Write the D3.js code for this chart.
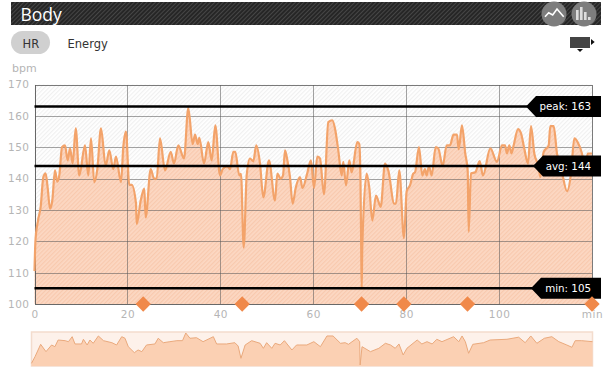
<!DOCTYPE html>
<html>
<head>
<meta charset="utf-8">
<script src="https://cdn.jsdelivr.net/npm/d3@7"></script>
<style>
html, body { margin: 0; padding: 0; background: #fff; }
svg { display: block; font-family: "DejaVu Sans", sans-serif; }
.tick line, .domain { shape-rendering: crispEdges; }
</style>
</head>
<body>
<div id="chart"></div>
<script>
//values
var minutes = [0, 0.2, 0.75, 1.33, 1.9, 2.4, 2.84, 3.34, 3.83, 4.41, 4.91, 5.34, 5.92, 6.56, 7.15, 7.64, 8.22, 8.87, 9.64, 10.87, 11.58, 12.16, 12.87, 13.52, 14.31, 15.32, 16.1, 16.96, 17.54, 18.62, 19.11, 19.69, 20.4, 20.92, 21.85, 22, 22.86, 23.63, 23.93, 25.01, 25.72, 26.3, 27.01, 28.09, 29.32, 30.03, 30.95, 32.18, 33.1, 34.05, 34.55, 35.13, 35.48, 36.48, 37.41, 38.14, 38.92, 39.93, 40.51, 41.5, 42.08, 42.79, 43.22, 44.08, 44.45, 45.03, 45.67, 46.38, 47.09, 47.74, 48.54, 49.25, 50.47, 51.77, 52.26, 52.99, 53.49, 53.92, 54.41, 54.99, 55.57, 56.22, 57.15, 57.68, 58.59, 59.51, 60.16, 60.87, 61.45, 62.31, 63.24, 64.1, 64.68, 65.39, 66.12, 66.47, 67.05, 67.76, 68.27, 69.48, 69.91, 70.17, 70.32, 70.43, 70.55, 71.5, 72.07, 72.71, 73.5, 74.52, 75.44, 76.15, 77.44, 77.8, 78.52, 79.53, 80.11, 80.82, 81.53, 81.9, 82.76, 83.47, 84.05, 84.4, 84.91, 85.49, 86.35, 86.92, 87.86, 88.72, 89.43, 90.18, 90.94, 91.3, 92.01, 92.72, 93.24, 93.46, 93.95, 94.88, 95.82, 96.53, 98.11, 99.55, 100.62, 101.27, 101.7, 102.2, 102.67, 103.14, 104.07, 104.71, 105.42, 106.22, 106.87, 107.58, 108.52, 108.87, 109.6, 110.68, 111.02, 111.75, 112.46, 113.39, 114.62, 115.48, 116.19, 116.92, 117.84, 118.55, 119.07, 119.63, 120];
var hr = [110.5, 120, 126.6, 131, 140.5, 141.7, 137, 130.4, 133, 142.6, 139, 141, 150, 150.6, 145.8, 149.6, 144.8, 156, 141, 150.6, 141, 152.8, 138.8, 143, 156, 144, 149, 143, 147, 138.8, 150, 155, 138, 138, 132, 125.5, 133, 136.8, 127.6, 143, 140, 140, 152.8, 142.6, 148.5, 144.8, 150.6, 146.4, 162.5, 151, 154, 151, 153, 144.8, 151.6, 145.8, 157, 141, 143, 144, 143, 148.5, 148.5, 141, 141.5, 118, 141, 146.4, 145.5, 150.6, 144.8, 134, 145.8, 133, 141.6, 140, 141, 149, 146, 140.5, 132, 137, 140.5, 137, 141, 145.8, 137, 147, 146.4, 135, 158, 158.6, 156, 149, 141, 145.3, 137.8, 145.8, 142, 151.6, 151, 139, 118, 105, 118, 141.6, 137, 126.6, 134.6, 131, 144.8, 142.6, 132, 132, 142.6, 121, 136, 137.8, 141.6, 142, 150, 141, 143, 141, 144, 141, 150, 149.6, 144, 150.6, 150.6, 154, 154, 149.3, 157, 148, 142.6, 123, 141.6, 142, 145.6, 141, 149.6, 145.3, 150.6, 150.6, 148, 150.6, 148, 150.6, 155.8, 154.5, 149.6, 144.8, 156.7, 148, 143.7, 140.5, 148.5, 150.6, 156.7, 156.7, 148, 143, 136, 141.6, 152.8, 151.6, 148, 142.6, 148, 148, 148];
var overviewMinutes = [0, 0.75, 1.96, 3.1, 4.3, 5, 5.7, 7.2, 7.9, 8.7, 9.3, 10.7, 11.1, 11.9, 12.5, 13.2, 14.3, 15.4, 17.2, 18.2, 19.3, 20, 20.7, 22, 22.8, 23.6, 24.6, 26.4, 27.1, 28.2, 29.6, 31.1, 32.3, 33, 33.9, 35.3, 36.7, 38.9, 39.6, 41.7, 43.5, 44.2, 44.8, 45.7, 47.1, 48.9, 49.6, 50.3, 51.4, 52.1, 53.2, 54.1, 55.7, 56.7, 57.4, 58.9, 60.4, 61.8, 63.2, 64.5, 66.1, 67.1, 67.8, 69.6, 70.2, 70.3, 70.7, 72.5, 74.3, 75.7, 76.8, 77.8, 78.6, 79.5, 80.3, 82.5, 83.5, 84.6, 85.7, 86.7, 87.8, 90.3, 91.4, 92.1, 92.8, 93.5, 94.4, 96.7, 98.1, 101.7, 104.2, 105.6, 106.8, 108.1, 109.7, 111.3, 112.8, 114.5, 115.6, 116.3, 117.7, 120];
var overviewHr = [108.9, 120.7, 142.8, 129.7, 141.6, 138.6, 150.5, 149.3, 147.5, 156.4, 143.4, 143.4, 151.8, 141.6, 150.5, 144.6, 157.7, 149.3, 145.7, 141.6, 156.4, 153.6, 138.6, 127.9, 132.7, 129.7, 141.6, 143.4, 153.6, 145.7, 147.5, 149.3, 149.3, 163, 153.6, 154.6, 147.5, 156.4, 143.4, 143.4, 145.7, 139.8, 117.9, 141.6, 149.3, 144.6, 135.7, 145.7, 135.7, 144.6, 141.6, 149.3, 132.7, 141.6, 141.6, 141.6, 147.5, 138.6, 157.7, 157.7, 144.6, 145.7, 142.8, 153.6, 147.5, 105.9, 138.6, 129.7, 135.7, 144.6, 141.6, 135.7, 143.4, 123.8, 135.7, 150.5, 143.4, 147.5, 143.4, 151.8, 147.5, 156.4, 147.5, 157.7, 147.5, 126.8, 142.8, 145.7, 150.5, 151.8, 155.5, 145.7, 157.7, 144.6, 153.6, 156.4, 147.5, 141.6, 137.5, 149.3, 149.3, 147.5];
var eventMinutes = [23.4, 44.7, 70.4, 79.5, 93.2, 120];
var refLabels = ["peak", "avg", "min"];
var refValues = [163, 144, 105];
var flagWidths = [75, 68, 70];
var yTicks = [100, 110, 120, 130, 140, 150, 160, 170];
var xTicks = [0, 20, 40, 60, 80, 100, 120];
var tabs = ["HR", "Energy"];

var W = 607, H = 376;
var margin = {top: 84.5, right: 15, bottom: 72, left: 34.5};
var data = minutes.map(function(m, i) { return {m: m, v: hr[i]}; });
var overview = overviewMinutes.map(function(m, i) { return {m: m, v: overviewHr[i]}; });

var svg = d3.select("#chart").append("svg").attr("width", W).attr("height", H);
var defs = svg.append("defs");

//diagonal hatch patterns
function hatch(id, bg, fg, size, sw) {
    var p = defs.append("pattern").attr("id", id)
        .attr("width", size).attr("height", size)
        .attr("patternUnits", "userSpaceOnUse")
        .attr("patternTransform", "rotate(45)");
    p.append("rect").attr("width", size).attr("height", size).attr("fill", bg);
    p.append("rect").attr("width", sw).attr("height", size).attr("fill", fg);
}
hatch("hatchBar", "#262626", "#464646", 3, 1);
hatch("hatchBg", "#ffffff", "#f0f0f0", 3, 1.2);
hatch("hatchArea", "#fcd8c3", "#f8c9ae", 3, 1.2);

//scales
var x = d3.scaleLinear().domain([0, 120]).range([margin.left, W - margin.right]);
var y = d3.scaleLinear().domain([100, 170]).range([H - margin.bottom, margin.top]);
var xo = d3.scaleLinear().domain([0, 120]).range([31.5, 592.5]);
var yo = d3.scaleLinear().domain([105, 163]).range([365.5, 333]);

//header bar
svg.append("rect").attr("x", 11).attr("y", 2).attr("width", 590).attr("height", 23).attr("fill", "url(#hatchBar)");
svg.append("text").attr("x", 20.5).attr("y", 20.5).attr("fill", "#fff").attr("font-size", 17.5).attr("font-family", "Open Sans").text("Body");

//round buttons in the header
var btns = svg.append("g");
[554, 584].forEach(function(cx) {
    btns.append("circle").attr("cx", cx).attr("cy", 14).attr("r", 12.5).attr("fill", "#7d7d7d");
});
btns.append("path").attr("d", "M545 16.7 L548.7 12.7 L552.7 15 L557 9 L563.7 16.7").attr("fill", "none").attr("stroke", "#fff").attr("stroke-width", 1.6);
[[577, 10, 10], [581, 7, 13], [585, 12, 8], [589, 17, 3]].forEach(function(b) {
    btns.append("rect").attr("x", b[0] - 1).attr("y", b[1]).attr("width", 2.6).attr("height", b[2]).attr("fill", "#ddd");
});

//tabs
svg.append("rect").attr("x", 11).attr("y", 31).attr("width", 39).attr("height", 23).attr("rx", 11.5).attr("fill", "#d0d0d0");
svg.append("text").attr("x", 22.5).attr("y", 48).attr("font-size", 11.5).attr("fill", "#333").text(tabs[0]);
svg.append("text").attr("x", 67.5).attr("y", 48).attr("font-size", 11.5).attr("fill", "#333").text(tabs[1]);

//small screen icon
svg.append("rect").attr("x", 570).attr("y", 37).attr("width", 20).attr("height", 11).attr("fill", "#444");
svg.append("path").attr("d", "M591 39 L594.7 42 L591 45 Z").attr("fill", "#111");
svg.append("path").attr("d", "M577 49 L583 49 L580 52 Z").attr("fill", "#111");

svg.append("text").attr("x", 12).attr("y", 72).attr("font-size", 11).attr("fill", "#b5b5b5").text("bpm");

//plot background and area
svg.append("rect").attr("x", x(0)).attr("y", y(170)).attr("width", x(120) - x(0)).attr("height", y(100) - y(170)).attr("fill", "url(#hatchBg)");

var area = d3.area().curve(d3.curveMonotoneX).x(function(d) { return x(d.m); }).y0(y(100)).y1(function(d) { return y(d.v); });
var line = d3.line().curve(d3.curveMonotoneX).x(function(d) { return x(d.m); }).y(function(d) { return y(d.v); });

svg.append("path").datum(data).attr("d", area).attr("fill", "url(#hatchArea)");

//axes, tick lines double as the grid
var yAxis = d3.axisLeft(y).tickValues(yTicks).tickSize(-(x(120) - x(0))).tickPadding(5);
var xAxis = d3.axisBottom(x).tickValues(xTicks).tickSize(-(y(100) - y(170))).tickPadding(7)
    .tickFormat(function(d) { return d == 120 ? "min" : d; });

svg.append("g").attr("transform", "translate(" + x(0) + ",0)").call(yAxis);
svg.append("g").attr("transform", "translate(0," + y(100) + ")").call(xAxis);
svg.selectAll(".tick line").attr("stroke", "#5a5a5a").attr("stroke-opacity", 0.55);
svg.selectAll(".domain").attr("stroke", "#5a5a5a").attr("stroke-opacity", 0.55);
svg.selectAll(".tick text").attr("fill", "#b5b5b5").attr("font-size", 10.5).attr("font-family", "DejaVu Sans").attr("letter-spacing", 0.5);

svg.append("path").datum(data).attr("d", line).attr("fill", "none").attr("stroke", "#f3a36a").attr("stroke-width", 2.2).attr("stroke-linejoin", "round");

//peak, avg and min lines with their flags
refValues.forEach(function(v, i) {
    var ry = y(v), left = 601 - flagWidths[i];
    svg.append("line").attr("x1", x(0)).attr("x2", left + 5).attr("y1", ry).attr("y2", ry).attr("stroke", "#000").attr("stroke-width", 2.4);
    svg.append("path").attr("fill", "#000")
        .attr("d", "M" + left + " " + ry + " L" + (left + 10) + " " + (ry - 10.5) + " L601 " + (ry - 10.5) + " L601 " + (ry + 10.5) + " L" + (left + 10) + " " + (ry + 10.5) + " Z");
    svg.append("text").attr("x", 591).attr("y", ry + 4).attr("text-anchor", "end")
        .attr("font-size", 10.3).attr("fill", "#fff").text(refLabels[i] + ": " + v);
});

//event diamonds on the time axis
svg.append("g").selectAll("path").data(eventMinutes).enter().append("path")
    .attr("d", d3.symbol().type(d3.symbolDiamond2).size(150))
    .attr("transform", function(d) { return "translate(" + x(d) + "," + y(100) + ")"; })
    .attr("fill", "#f0894a");

//overview strip
svg.append("rect").attr("x", 31.5).attr("y", 332).attr("width", 561).attr("height", 34).attr("fill", "#fdf1ea").attr("stroke", "#f3dccd").attr("stroke-width", 1.5);
var areaO = d3.area().x(function(d) { return xo(d.m); }).y0(366).y1(function(d) { return yo(d.v); });
var lineO = d3.line().x(function(d) { return xo(d.m); }).y(function(d) { return yo(d.v); });
svg.append("path").datum(overview).attr("d", areaO).attr("fill", "#fbd0b3");
svg.append("path").datum(overview).attr("d", lineO).attr("fill", "none").attr("stroke", "#eaa97c").attr("stroke-width", 1);
</script>
</body>
</html>
